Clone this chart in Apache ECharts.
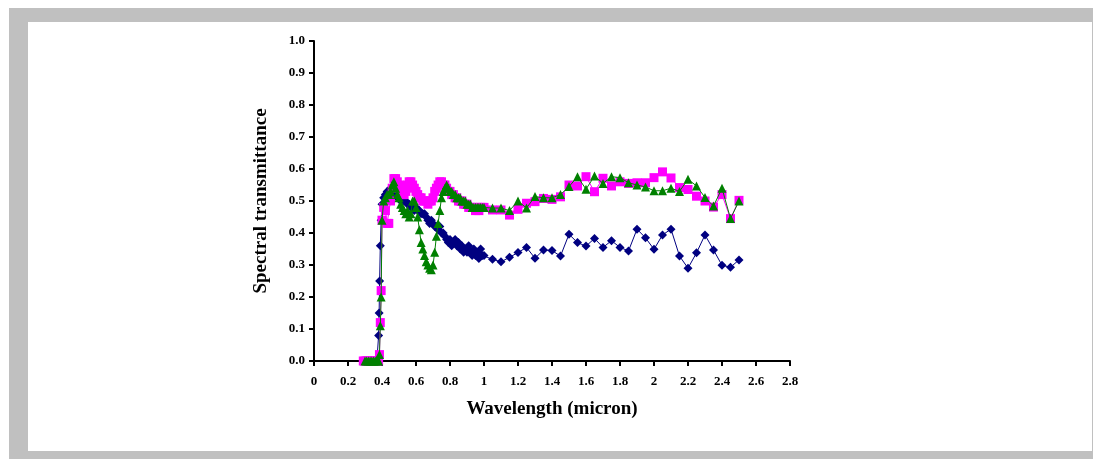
<!DOCTYPE html>
<html>
<head>
<meta charset="utf-8">
<script src="https://cdn.jsdelivr.net/npm/echarts@6/dist/echarts.min.js"></script>
<style>
html,body{margin:0;padding:0;background:#fff;width:1093px;height:459px;overflow:hidden;}
#frame{position:absolute;left:9px;top:8px;width:1084px;height:451px;background:#c0c0c0;}
#inner{position:absolute;left:28px;top:22px;width:1064px;height:429px;background:#fff;}
#chart{position:absolute;left:0;top:0;width:1093px;height:459px;}
</style>
</head>
<body>
<div id="frame"></div>
<div id="inner"></div>
<div id="chart"></div>
<script>
// Series 1 (navy diamonds)
const navyX = [0.29,0.30,0.31,0.32,0.33,0.34,0.35,0.36,0.37,0.375,0.38,0.383,0.386,0.39,0.395,0.40,0.41,0.42,0.43,0.44,0.45,0.46,0.47,0.48,0.49,0.50,0.51,0.52,0.53,0.54,0.55,0.56,0.57,0.58,0.59,0.60,0.61,0.62,0.63,0.64,0.65,0.66,0.67,0.68,0.69,0.70,0.71,0.72,0.73,0.74,0.75,0.76,0.77,0.78,0.79,0.80,0.81,0.82,0.83,0.84,0.85,0.86,0.87,0.88,0.89,0.90,0.91,0.92,0.93,0.94,0.95,0.96,0.97,0.98,0.99,1.00,1.05,1.10,1.15,1.20,1.25,1.30,1.35,1.40,1.45,1.50,1.55,1.60,1.65,1.70,1.75,1.80,1.85,1.90,1.95,2.00,2.05,2.10,2.15,2.20,2.25,2.30,2.35,2.40,2.45,2.50];
const navyY = [0,0,0,0,0,0,0,0,0,0,0.08,0.15,0.25,0.36,0.44,0.49,0.51,0.52,0.53,0.53,0.54,0.53,0.52,0.52,0.51,0.51,0.50,0.51,0.50,0.50,0.49,0.49,0.48,0.48,0.47,0.48,0.47,0.47,0.46,0.46,0.46,0.45,0.44,0.43,0.44,0.43,0.42,0.42,0.41,0.42,0.40,0.40,0.39,0.38,0.37,0.38,0.36,0.37,0.38,0.36,0.37,0.35,0.36,0.34,0.35,0.34,0.36,0.34,0.33,0.35,0.33,0.34,0.32,0.35,0.33,0.33,0.318,0.31,0.324,0.339,0.355,0.321,0.347,0.345,0.328,0.396,0.370,0.359,0.383,0.355,0.376,0.355,0.344,0.412,0.385,0.349,0.394,0.412,0.328,0.290,0.338,0.394,0.347,0.299,0.293,0.316];

// Series 2 (magenta squares)
const magX = [0.29,0.30,0.31,0.32,0.33,0.34,0.35,0.36,0.37,0.38,0.385,0.39,0.395,0.40,0.41,0.42,0.43,0.44,0.45,0.46,0.47,0.48,0.49,0.50,0.51,0.52,0.53,0.54,0.55,0.56,0.57,0.58,0.59,0.60,0.61,0.62,0.63,0.64,0.65,0.66,0.67,0.68,0.69,0.70,0.71,0.72,0.73,0.74,0.75,0.76,0.77,0.78,0.79,0.80,0.81,0.82,0.83,0.84,0.85,0.86,0.87,0.88,0.89,0.90,0.91,0.92,0.93,0.94,0.95,0.96,0.97,0.98,0.99,1.00,1.05,1.10,1.15,1.20,1.25,1.30,1.35,1.40,1.45,1.50,1.55,1.60,1.65,1.70,1.75,1.80,1.85,1.90,1.95,2.00,2.05,2.10,2.15,2.20,2.25,2.30,2.35,2.40,2.45,2.50];
const magY = [0,0,0,0,0,0,0,0,0,0,0.02,0.12,0.22,0.44,0.48,0.47,0.43,0.43,0.50,0.54,0.57,0.57,0.56,0.55,0.54,0.52,0.52,0.53,0.55,0.56,0.56,0.55,0.54,0.53,0.52,0.51,0.51,0.50,0.50,0.50,0.49,0.50,0.50,0.51,0.53,0.54,0.55,0.56,0.56,0.55,0.55,0.54,0.53,0.53,0.52,0.52,0.51,0.51,0.50,0.50,0.50,0.49,0.49,0.49,0.48,0.48,0.48,0.48,0.47,0.48,0.47,0.48,0.48,0.48,0.472,0.472,0.456,0.474,0.493,0.498,0.508,0.505,0.513,0.550,0.547,0.576,0.529,0.571,0.547,0.560,0.555,0.557,0.557,0.573,0.591,0.572,0.542,0.536,0.515,0.500,0.481,0.520,0.445,0.502];

// Series 3 (green triangles)
const grnX = [0.30,0.31,0.32,0.33,0.34,0.35,0.36,0.37,0.38,0.385,0.39,0.395,0.40,0.41,0.42,0.43,0.44,0.45,0.46,0.47,0.48,0.49,0.50,0.51,0.52,0.53,0.54,0.55,0.56,0.57,0.58,0.59,0.60,0.61,0.62,0.63,0.64,0.65,0.66,0.67,0.68,0.69,0.70,0.71,0.72,0.73,0.74,0.75,0.76,0.77,0.78,0.79,0.80,0.81,0.82,0.83,0.84,0.85,0.86,0.87,0.88,0.89,0.90,0.91,0.92,0.93,0.94,0.95,0.96,0.97,0.98,0.99,1.00,1.05,1.10,1.15,1.20,1.25,1.30,1.35,1.40,1.45,1.50,1.55,1.60,1.65,1.70,1.75,1.80,1.85,1.90,1.95,2.00,2.05,2.10,2.15,2.20,2.25,2.30,2.35,2.40,2.45,2.50];
const grnY = [0,0,0,0,0,0,0,0,0,0.02,0.11,0.20,0.44,0.50,0.51,0.52,0.52,0.53,0.55,0.56,0.54,0.52,0.51,0.49,0.48,0.47,0.46,0.47,0.45,0.46,0.50,0.50,0.48,0.45,0.41,0.37,0.35,0.33,0.31,0.30,0.29,0.285,0.30,0.34,0.39,0.43,0.47,0.51,0.53,0.54,0.55,0.54,0.53,0.53,0.52,0.52,0.51,0.51,0.51,0.50,0.50,0.50,0.49,0.49,0.49,0.48,0.48,0.48,0.48,0.48,0.48,0.48,0.48,0.478,0.478,0.470,0.500,0.478,0.514,0.510,0.510,0.520,0.545,0.576,0.537,0.578,0.555,0.576,0.573,0.557,0.550,0.544,0.532,0.532,0.540,0.530,0.568,0.547,0.511,0.484,0.540,0.445,0.500];

const xTicks = { min: 0, max: 2.8, step: 0.2 };
const yTicks = { min: 0, max: 1.0, step: 0.1 };
const xTitle = 'Wavelength (micron)';
const yTitle = 'Spectral transmittance';

const zip = (xs, ys) => xs.map((x, i) => [x, ys[i]]);
const font = 'Liberation Serif';

const chart = echarts.init(document.getElementById('chart'), null, {renderer: 'canvas'});
const axisCommon = {
  axisLine: {show: true, onZero: false, lineStyle: {color: '#000', width: 2}},
  axisTick: {show: true, inside: false, length: 5, lineStyle: {color: '#000', width: 2}},
  splitLine: {show: false},
  nameLocation: 'middle',
  nameTextStyle: {fontFamily: font, fontWeight: 'bold', fontSize: 19, color: '#000'}
};
chart.setOption({
  backgroundColor: 'transparent',
  animation: false,
  grid: {left: 314, right: 303, top: 41, bottom: 98, containLabel: false},
  xAxis: Object.assign({}, axisCommon, {
    type: 'value', min: xTicks.min, max: xTicks.max, interval: xTicks.step,
    name: xTitle, nameGap: 39,
    axisLabel: {fontFamily: font, fontWeight: 'bold', fontSize: 13, color: '#000', margin: 14,
      formatter: v => String(Math.round(v * 10) / 10)}
  }),
  yAxis: Object.assign({}, axisCommon, {
    type: 'value', min: yTicks.min, max: yTicks.max, interval: yTicks.step,
    name: yTitle, nameGap: 43,
    axisLabel: {fontFamily: font, fontWeight: 'bold', fontSize: 13, color: '#000', margin: 9,
      formatter: v => v.toFixed(1)}
  }),
  series: [
    {type: 'line', data: zip(navyX, navyY), symbol: 'diamond', symbolSize: 9,
     itemStyle: {color: '#000080'}, lineStyle: {color: '#000080', width: 1}, z: 2},
    {type: 'line', data: zip(magX, magY), symbol: 'rect', symbolSize: 9,
     itemStyle: {color: '#ff00ff'}, lineStyle: {color: '#ff00ff', width: 1}, z: 3},
    {type: 'line', data: zip(grnX, grnY), symbol: 'triangle', symbolSize: 9,
     itemStyle: {color: '#008000'}, lineStyle: {color: '#008000', width: 1}, z: 4}
  ]
});
</script>
</body>
</html>
